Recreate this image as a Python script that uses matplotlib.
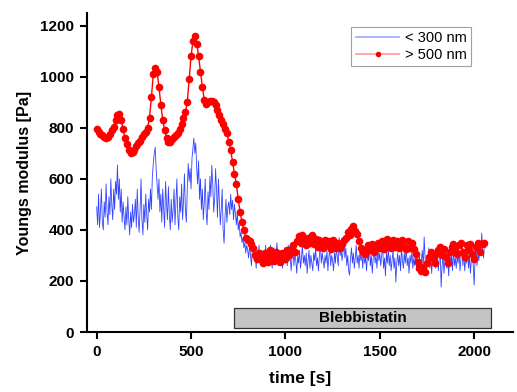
import numpy as np
import matplotlib
matplotlib.use("Agg")
import matplotlib.pyplot as plt
from matplotlib.patches import Rectangle

plt.rcParams['font.family'] = ['Liberation Sans', 'DejaVu Sans']

# red series (> 500 nm), one value every 10 s
red_vals = [
    795, 785, 775, 770, 765, 760, 765, 775, 790, 805,
    830, 850, 855, 830, 795, 760, 735, 715, 700, 705,
    715, 730, 740, 750, 765, 775, 785, 800, 840, 920,
    1010, 1035, 1020, 960, 890, 830, 790, 760, 745, 745,
    755, 765, 770, 780, 795, 815, 840, 860, 900, 990,
    1080, 1140, 1158, 1130, 1080, 1020, 960, 910, 895, 900,
    905, 905, 900, 890, 870, 850, 830, 815, 795, 780,
    745, 715, 665, 620, 580, 520, 470, 430, 400, 370,
    360, 355, 345, 330, 300, 285, 310, 290, 270, 310,
    295, 275, 320, 300, 280, 315, 295, 275, 310, 300,
    285, 320, 300, 325, 340, 315, 355, 375, 350, 380,
    355, 340, 370, 350, 380, 345, 365, 335, 360, 345,
    330, 360, 340, 355, 325, 360, 340, 330, 350, 330,
    345, 360, 370, 390, 380, 405, 415, 395, 385, 355,
    330, 315, 305, 325, 340, 320, 345, 315, 330, 350,
    330, 355, 325, 340, 365, 340, 330, 360, 335, 355,
    330, 350, 360, 335, 325, 355, 330, 350, 325, 305,
    275, 250, 240, 255, 235, 270, 295, 315, 290, 270,
    305, 320, 335, 300, 325, 295, 270, 315, 335, 345,
    320, 305, 340, 350, 315, 295, 340, 320, 345, 305,
    285, 335, 350, 315, 345, 350,
]

# blue series (< 300 nm), one value every 5 s
blue_vals = [
    490, 420, 540, 410, 470, 560, 430, 400, 510, 450, 580, 470, 420, 530, 460, 600, 500, 440, 560, 480, 590,
    540, 654, 520, 600, 470, 560, 430, 510, 450, 400, 490, 420, 530, 440, 380, 470, 410, 500, 430, 460,
    520, 410, 560, 450, 390, 480, 600, 440, 380, 500, 430, 540, 460, 400, 520, 470, 560, 480, 610, 660,
    700, 724, 640, 580, 520, 600, 470, 540, 430, 560, 480, 410, 590, 500, 440, 570, 460, 400, 520, 430,
    480, 560, 420, 510, 600, 450, 400, 530, 470, 580, 440, 510, 620, 480, 430, 560, 660, 590, 640, 560,
    680, 720, 760, 700, 740, 640, 580, 670, 520, 600, 480, 560, 440, 510, 600, 470, 420, 550, 480, 610,
    530, 653, 580, 470, 520, 640, 560, 450, 600, 510, 420, 480, 560, 400, 348, 450, 520, 430, 490, 510,
    460, 540, 480, 516, 440, 500, 466, 420, 470, 400, 430, 372, 390, 350, 370, 330, 350, 310, 340, 320,
    290, 340, 300, 260, 330, 350, 280, 310, 250, 320, 290, 340, 270, 300, 320, 260, 310, 290, 340, 280,
    320, 260, 300, 340, 280, 250, 310, 330, 270, 300, 350, 290, 260, 320, 280, 310, 250, 300, 330, 270,
    310, 260, 340, 280, 300, 240, 290, 330, 260, 310, 280, 230, 300, 270, 320, 250, 290, 340, 270, 300,
    260, 310, 230, 280, 320, 250, 300, 270, 240, 310, 280, 330, 260, 290, 240, 300, 350, 270, 310, 280,
    250, 300, 270, 320, 240, 290, 330, 260, 300, 280, 240, 310, 270, 340, 290, 260, 370, 300, 330, 280,
    310, 372, 290, 330, 260, 300, 240, 223, 290, 330, 270, 310, 250, 290, 340, 270, 300, 250, 320, 280,
    300, 250, 330, 270, 290, 240, 310, 280, 340, 260, 300, 230, 290, 320, 270, 300, 250, 330, 280, 310,
    260, 300, 340, 250, 290, 220, 310, 270, 330, 260, 300, 240, 280, 320, 250, 290, 196, 270, 310, 260,
    300, 240, 330, 280, 250, 310, 270, 340, 260, 290, 230, 300, 270, 320, 250, 290, 260, 310, 240, 280,
    260, 300, 230, 280, 320, 250, 372, 290, 240, 300, 270, 330, 250, 290, 230, 310, 270, 300, 250, 280,
    300, 240, 290, 320, 176, 260, 300, 230, 280, 330, 250, 290, 220, 310, 270, 300, 240, 330, 260, 290,
    250, 300, 270, 320, 240, 290, 330, 260, 310, 240, 290, 270, 320, 250, 300, 230, 280, 310, 260, 184,
    290, 330, 260, 310, 280, 340, 300, 387, 320, 290, 360, 330,
]

red_time = np.arange(len(red_vals)) * 10
blue_time = np.arange(len(blue_vals)) * 5

# treatment window
bleb_start, bleb_end = 730, 2090
bleb_low, bleb_high = 15, 95

fig = plt.figure(figsize=(5.17, 3.92), dpi=100)
ax = fig.add_axes([0.168, 0.153, 0.824, 0.814])

ax.plot(blue_time, blue_vals, color='#3344ff', lw=0.6, label='< 300 nm')
ax.plot(red_time, red_vals, color='red', lw=1.0, marker='o', markersize=5.5,
        markeredgewidth=0, label='> 500 nm')

ax.add_patch(Rectangle((bleb_start, bleb_low), bleb_end - bleb_start, bleb_high - bleb_low,
                       facecolor='#c4c4c4', edgecolor='#333333', lw=0.9))
ax.text((bleb_start + bleb_end) / 2, (bleb_low + bleb_high) / 2, 'Blebbistatin',
        ha='center', va='center', fontsize=11, fontweight='bold')

ax.set_xlim(-52, 2205)
ax.set_ylim(0, 1250)
ax.set_xticks([0, 500, 1000, 1500, 2000])
ax.set_yticks([0, 200, 400, 600, 800, 1000, 1200])

for side in ['top', 'right']:
    ax.spines[side].set_visible(False)
for side in ['left', 'bottom']:
    ax.spines[side].set_linewidth(1.5)
ax.tick_params(direction='out', length=5, width=1.5, labelsize=11, pad=4)
for lab in ax.get_xticklabels() + ax.get_yticklabels():
    lab.set_fontweight('bold')

ax.set_xlabel('time [s]', fontsize=12.5, fontweight='bold', labelpad=9)
ax.set_ylabel('Youngs modulus [Pa]', fontsize=11.5, fontweight='bold', labelpad=6)

leg = ax.legend(loc='upper right', bbox_to_anchor=(0.92, 0.98), fontsize=10.5,
                frameon=True, fancybox=False, handlelength=3.0, borderpad=0.3,
                labelspacing=0.2, handletextpad=0.4)
leg.get_frame().set_edgecolor('#888888')
leg.get_frame().set_linewidth(0.8)
blue_h, red_h = leg.get_lines()
blue_h.set_color('#9aa6ff')
blue_h.set_linewidth(1.2)
red_h.set_color('#ff9a9a')
red_h.set_linewidth(1.2)
red_h.set_markerfacecolor('red')
red_h.set_markersize(4)

fig.savefig('out.png', dpi=100)
